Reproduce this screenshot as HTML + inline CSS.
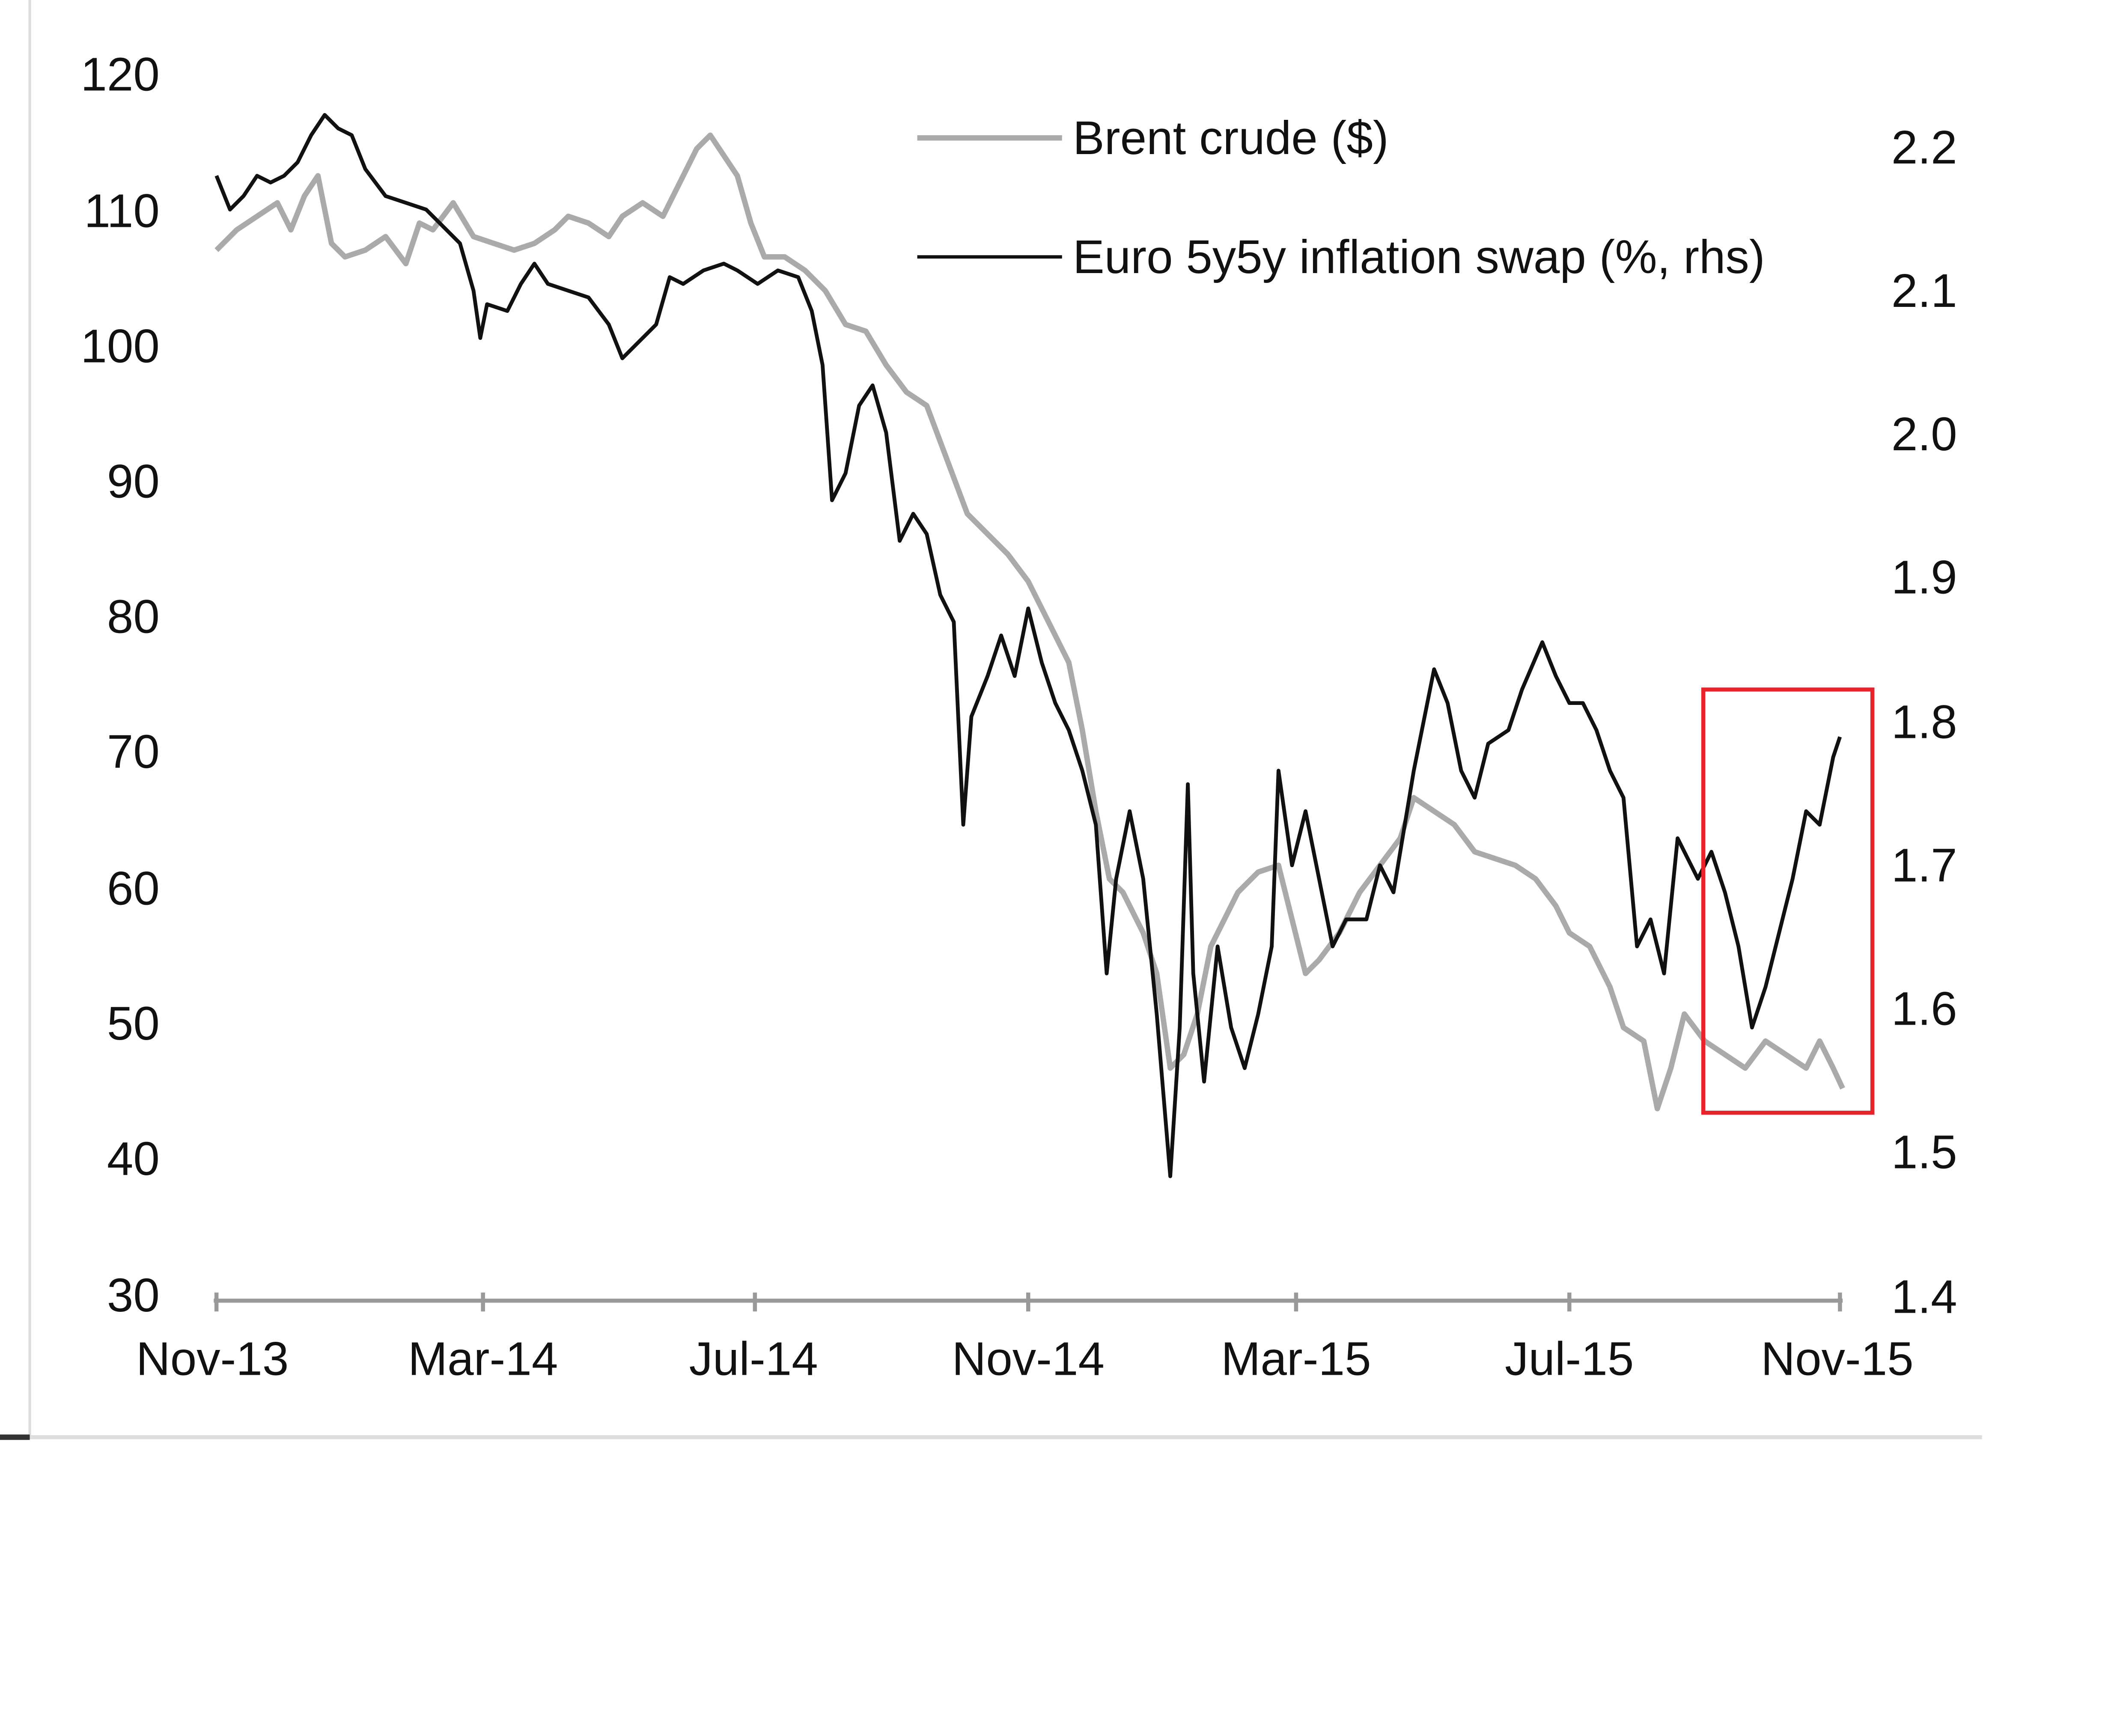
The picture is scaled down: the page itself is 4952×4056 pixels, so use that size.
<!DOCTYPE html>
<html><head><meta charset="utf-8"><style>
html,body{margin:0;padding:0;background:#fff;}
svg{display:block;}
text{font-family:"Liberation Sans",Arial,sans-serif;font-size:35px;fill:#111;}
</style></head><body>
<svg width="4952" height="4056" viewBox="0 0 1567 1284" preserveAspectRatio="none" xmlns="http://www.w3.org/2000/svg">
<rect width="1567" height="1284" fill="#fff"/>
<line x1="22" y1="0" x2="22" y2="1062" stroke="#ddd" stroke-width="2"/>
<line x1="0" y1="1063" x2="1465" y2="1063" stroke="#ddd" stroke-width="3"/>
<rect x="0" y="1061" width="22" height="4" fill="#333"/>
<g text-anchor="end">
<text x="118" y="67">120</text><text x="118" y="168">110</text><text x="118" y="268">100</text>
<text x="118" y="368">90</text><text x="118" y="468">80</text><text x="118" y="568">70</text>
<text x="118" y="669">60</text><text x="118" y="769">50</text><text x="118" y="869">40</text>
<text x="118" y="970">30</text>
</g>
<g text-anchor="start">
<text x="1398" y="121">2.2</text><text x="1398" y="227">2.1</text><text x="1398" y="333">2.0</text>
<text x="1398" y="439">1.9</text><text x="1398" y="546">1.8</text><text x="1398" y="652">1.7</text>
<text x="1398" y="758">1.6</text><text x="1398" y="864">1.5</text><text x="1398" y="971">1.4</text>
</g>
<line x1="158" y1="962" x2="1362" y2="962" stroke="#999" stroke-width="3"/>
<g stroke="#999" stroke-width="3">
<line x1="160" y1="956" x2="160" y2="970"/><line x1="357" y1="956" x2="357" y2="970"/>
<line x1="558" y1="956" x2="558" y2="970"/><line x1="760" y1="956" x2="760" y2="970"/>
<line x1="958" y1="956" x2="958" y2="970"/><line x1="1160" y1="956" x2="1160" y2="970"/>
<line x1="1360" y1="956" x2="1360" y2="970"/>
</g>
<g text-anchor="middle">
<text x="157" y="1017">Nov-13</text><text x="357" y="1017">Mar-14</text><text x="557" y="1017">Jul-14</text>
<text x="760" y="1017">Nov-14</text><text x="958" y="1017">Mar-15</text><text x="1160" y="1017">Jul-15</text>
<text x="1358" y="1017">Nov-15</text>
</g>
<line x1="678" y1="102" x2="785" y2="102" stroke="#aaa" stroke-width="4"/>
<text x="793" y="114">Brent crude ($)</text>
<line x1="678" y1="190" x2="785" y2="190" stroke="#111" stroke-width="2.5"/>
<text x="793" y="202">Euro 5y5y inflation swap (%, rhs)</text>
<polyline fill="none" stroke="#aaa" stroke-width="4" stroke-linejoin="round" points="160,185 175,170 190,160 205,150 215,170 225,145 235,130 245,180 255,190 270,185 285,175 300,195 310,165 320,170 335,150 350,175 365,180 380,185 395,180 410,170 420,160 435,165 450,175 460,160 475,150 490,160 505,130 515,110 525,100 535,115 545,130 555,165 565,190 580,190 595,200 610,215 625,240 640,245 655,270 670,290 685,300 700,340 715,380 730,395 745,410 760,430 775,460 790,490 800,540 810,600 820,650 830,660 845,690 855,720 865,790 875,780 885,750 895,700 905,680 915,660 930,645 945,640 955,680 965,720 975,710 990,690 1005,660 1020,640 1035,620 1045,590 1060,600 1075,610 1090,630 1105,635 1120,640 1135,650 1150,670 1160,690 1175,700 1190,730 1200,760 1215,770 1225,820 1235,790 1245,750 1260,770 1275,780 1290,790 1305,770 1320,780 1335,790 1345,770 1355,790 1362,805"/>
<polyline fill="none" stroke="#111" stroke-width="2.8" stroke-linejoin="round" points="160,130 170,155 180,145 190,130 200,135 210,130 220,120 230,100 240,85 250,95 260,100 270,125 285,145 300,150 315,155 330,170 340,180 350,215 355,250 360,225 375,230 385,210 395,195 405,210 420,215 435,220 450,240 460,265 470,255 485,240 495,205 505,210 520,200 535,195 545,200 560,210 575,200 590,205 600,230 608,270 615,370 625,350 635,300 645,285 655,320 665,400 675,380 685,395 695,440 705,460 712,610 718,530 730,500 740,470 750,500 760,450 770,490 780,520 790,540 800,570 810,610 818,720 825,650 835,600 845,650 855,750 865,870 872,760 878,580 882,720 890,800 900,700 910,760 920,790 930,750 940,700 945,570 955,640 965,600 975,650 985,700 995,680 1010,680 1020,640 1030,660 1045,570 1060,495 1070,520 1080,570 1090,590 1100,550 1115,540 1125,510 1140,475 1150,500 1160,520 1170,520 1180,540 1190,570 1200,590 1210,700 1220,680 1230,720 1240,620 1255,650 1265,630 1275,660 1285,700 1295,760 1305,730 1315,690 1325,650 1335,600 1345,610 1355,560 1360,545"/>
<rect x="1259" y="510" width="125" height="313" fill="none" stroke="#e8232a" stroke-width="3"/>
</svg>
</body></html>
